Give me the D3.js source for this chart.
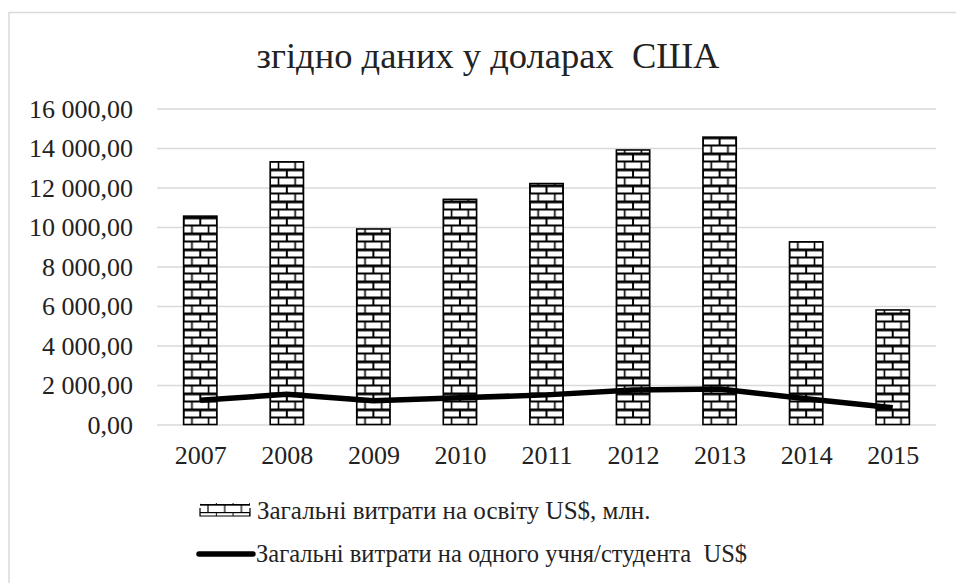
<!DOCTYPE html>
<html>
<head>
<meta charset="utf-8">
<script src="https://cdn.jsdelivr.net/npm/d3@7"></script>
<style>
  body { margin:0; background:#fff; }
  svg text { font-family:"Liberation Serif","Times New Roman",serif; fill:#222; }
</style>
</head>
<body>
<div id="chart"></div>
<script>
// data
var years = ["2007","2008","2009","2010","2011","2012","2013","2014","2015"];
var totalSpend = [10550, 13300, 9900, 11400, 12200, 13900, 14550, 9250, 5800];
var perStudent = [1230, 1530, 1200, 1350, 1500, 1750, 1800, 1300, 850];
var yTicks = [0, 2000, 4000, 6000, 8000, 10000, 12000, 14000, 16000];
var titleText = "згідно даних у доларах\u00a0 США";
var legendLabels = ["Загальні витрати на освіту US$, млн.", "Загальні витрати на одного учня/студента\u00a0 US$"];

(function() {
  var W = 956, H = 583;
  var plotL = 157, plotR = 936, plotT = 108.5, plotB = 424.5;
  var serif = "'Liberation Serif', 'Times New Roman', serif";

  var svg = d3.select("#chart").append("svg").attr("width", W).attr("height", H);

  var uk = d3.formatLocale({decimal: ",", thousands: "\u00a0", grouping: [3], currency: ["", ""]});
  var fmt = uk.format(",.2f");

  var x = d3.scaleBand().domain(years).range([plotL, plotR]).paddingInner(0.615).paddingOuter(0.3075);
  var xc = d3.scalePoint().domain(years).range([plotL, plotR]).padding(0.5);
  var y = d3.scaleLinear().domain([0, 16000]).range([plotB, plotT]);

  // chart frame (cropped on right/bottom in the reference)
  svg.append("rect").attr("x", 9).attr("y", 12.5).attr("width", W + 20).attr("height", H + 20)
     .attr("fill", "none").attr("stroke", "#d9d9d9").attr("stroke-width", 1.5);

  svg.append("text").attr("x", 488).attr("y", 68).attr("text-anchor", "middle")
     .attr("font-family", serif).style("font-size", "36.5px").text(titleText);

  // gridlines + y labels
  var yAxis = d3.axisLeft(y).tickValues(yTicks).tickSize(-(plotR - plotL)).tickFormat(fmt).tickPadding(24);
  var gy = svg.append("g").attr("transform", "translate(" + plotL + ",0)").call(yAxis)
     .attr("font-family", serif).attr("font-size", 26);
  gy.select(".domain").remove();
  gy.selectAll(".tick line").attr("stroke", "#d9d9d9").attr("stroke-width", 1.5);
  gy.selectAll(".tick text").attr("fill", "#222").attr("dy", "0.33em");

  var xAxis = d3.axisBottom(xc).tickSize(0).tickPadding(0);
  var gx = svg.append("g").attr("transform", "translate(0," + plotB + ")").call(xAxis)
     .attr("font-family", serif).attr("font-size", 26);
  gx.select(".domain").remove();
  gx.selectAll(".tick text").attr("fill", "#222").attr("dy", null).attr("y", 39.5);

  // brick pattern
  var defs = svg.append("defs");
  function brick(id, x0, bw, bh, y0, k) {
    var p = defs.append("pattern").attr("id", id).attr("patternUnits", "userSpaceOnUse")
      .attr("x", x0).attr("y", y0).attr("width", bw).attr("height", bh * 2);
    p.append("rect").attr("width", bw).attr("height", bh * 2).attr("fill", "#fff");
    p.append("rect").attr("x", 0).attr("y", 0).attr("width", bw).attr("height", 2.8 * k).attr("fill", "#000");
    p.append("rect").attr("x", 0).attr("y", bh).attr("width", bw).attr("height", 2 * k).attr("fill", "#000");
    p.append("rect").attr("x", -1 * k).attr("y", 0).attr("width", 2 * k).attr("height", bh).attr("fill", "#000");
    p.append("rect").attr("x", bw - 1 * k).attr("y", 0).attr("width", 2 * k).attr("height", bh).attr("fill", "#000");
    p.append("rect").attr("x", bw / 2 - 0.8 * k).attr("y", bh).attr("width", 1.6 * k).attr("height", bh).attr("fill", "#000");
  }
  var bw = x.bandwidth();
  years.forEach(function(d, i) { brick("brick" + i, x(d), bw / 2, 8, plotB, 1); });

  svg.selectAll("rect.bar").data(totalSpend).enter().append("rect").attr("class", "bar")
     .attr("x", function(d, i) { return x(years[i]); })
     .attr("width", bw)
     .attr("y", function(d) { return y(d); })
     .attr("height", function(d) { return plotB - y(d); })
     .attr("fill", function(d, i) { return "url(#brick" + i + ")"; })
     .attr("stroke", "#000").attr("stroke-width", 1.6);

  var line = d3.line().x(function(d, i) { return xc(years[i]); }).y(function(d) { return y(d); });
  svg.append("path").datum(perStudent).attr("d", line).attr("fill", "none")
     .attr("stroke", "#000").attr("stroke-width", 5.5).attr("stroke-linejoin", "round");

  // legend
  var lg = svg.append("g").attr("transform", "translate(200,500)");
  brick("brickLeg", 191.7, 16.7, 8, 500, 0.6);
  lg.append("rect").attr("x", 0).attr("y", 3).attr("width", 50).attr("height", 13)
     .attr("fill", "url(#brickLeg)");
  lg.append("path").attr("d", "M0,8V16H50V8")
     .attr("fill", "none").attr("stroke", "#000").attr("stroke-width", 1.2);
  lg.append("text").attr("x", 57).attr("y", 19).attr("font-family", serif).style("font-size", "25px").text(legendLabels[0]);
  lg.append("line").attr("x1", -1).attr("x2", 53).attr("y1", 54).attr("y2", 54)
     .attr("stroke", "#000").attr("stroke-width", 5.5).attr("stroke-linecap", "round");
  lg.append("text").attr("x", 56).attr("y", 62).attr("font-family", serif).style("font-size", "24.5px").text(legendLabels[1]);
})();
</script>
</body>
</html>
